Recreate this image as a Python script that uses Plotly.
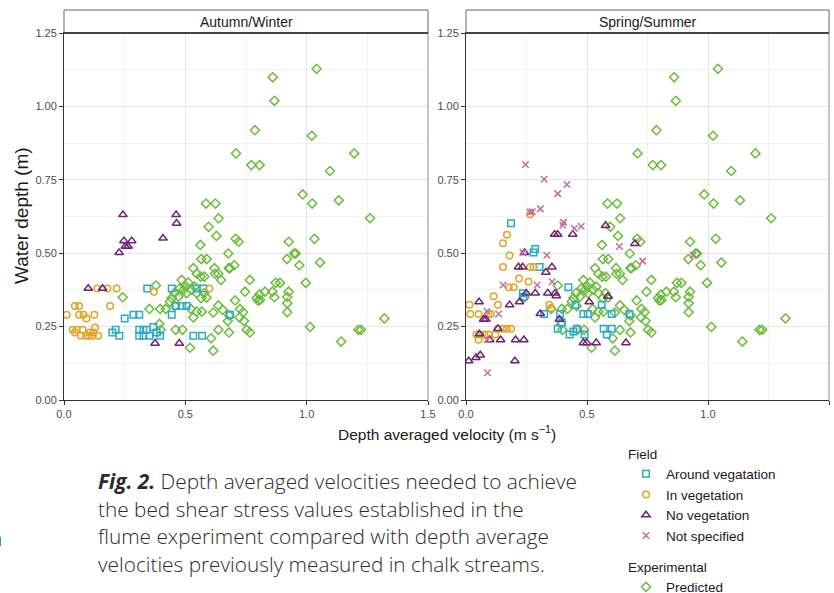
import plotly.graph_objects as go

W, H = 834, 593

# ---------------- data ----------------
panels = ["Autumn/Winter", "Spring/Summer"]

pred_x = [1.041, 0.860, 0.867, 0.787, 1.021, 0.709, 1.196, 0.772, 0.806, 1.096, 0.984, 1.132, 1.023, 0.585,
          0.624, 1.261, 0.637, 0.596, 0.628, 1.032, 0.707, 0.720, 0.926, 0.562, 0.948, 0.955, 0.677, 1.055,
          0.919, 0.566, 0.588, 0.970, 0.702, 0.679, 0.684, 0.533, 0.620, 0.622, 0.636, 0.647, 0.547, 0.563,
          0.578, 0.766, 0.996, 0.872, 0.890, 0.828, 0.805, 0.859, 0.926, 0.746, 0.485, 0.512, 0.499, 0.478,
          0.492, 0.526, 0.547, 0.577, 0.538, 0.455, 0.444, 0.471, 0.437, 0.505, 0.565, 0.587, 0.794, 0.800,
          0.808, 0.867, 0.920, 0.920, 0.920, 0.379, 0.242, 0.352, 0.396, 0.419, 0.457, 0.523, 0.547, 0.568,
          0.615, 0.636, 0.654, 0.705, 0.725, 0.738, 0.723, 0.742, 0.533, 0.675, 0.681, 0.393, 0.398, 0.460,
          0.488, 0.636, 0.753, 0.766, 0.680, 1.014, 1.213, 1.224, 1.320, 1.142, 0.606, 0.519, 0.615]
pred_y = [1.128, 1.099, 1.019, 0.919, 0.900, 0.840, 0.840, 0.800, 0.800, 0.780, 0.700, 0.680, 0.669, 0.669,
          0.669, 0.619, 0.619, 0.590, 0.559, 0.549, 0.549, 0.539, 0.539, 0.528, 0.499, 0.499, 0.499, 0.468,
          0.480, 0.480, 0.480, 0.459, 0.459, 0.449, 0.449, 0.449, 0.449, 0.430, 0.430, 0.409, 0.430, 0.420,
          0.420, 0.409, 0.399, 0.399, 0.399, 0.369, 0.359, 0.369, 0.369, 0.369, 0.409, 0.400, 0.389, 0.381,
          0.375, 0.375, 0.364, 0.364, 0.386, 0.364, 0.347, 0.352, 0.335, 0.364, 0.347, 0.349, 0.347, 0.338,
          0.341, 0.350, 0.351, 0.330, 0.299, 0.390, 0.350, 0.310, 0.310, 0.310, 0.320, 0.310, 0.301, 0.301,
          0.298, 0.322, 0.307, 0.339, 0.310, 0.299, 0.281, 0.269, 0.281, 0.269, 0.288, 0.259, 0.239, 0.239,
          0.239, 0.239, 0.239, 0.230, 0.230, 0.249, 0.239, 0.239, 0.278, 0.199, 0.210, 0.178, 0.168]

# Autumn/Winter field data
aw_around_x = [0.250, 0.286, 0.310, 0.199, 0.213, 0.228, 0.310, 0.327, 0.310, 0.327, 0.352, 0.341, 0.368,
               0.382, 0.396, 0.343, 0.444, 0.444, 0.462, 0.486, 0.505, 0.547, 0.574, 0.533, 0.569, 0.684]
aw_around_y = [0.278, 0.290, 0.290, 0.230, 0.239, 0.219, 0.239, 0.239, 0.219, 0.219, 0.219, 0.239, 0.249,
               0.230, 0.219, 0.380, 0.380, 0.290, 0.320, 0.320, 0.320, 0.380, 0.380, 0.219, 0.219, 0.290]
aw_in_x = [0.011, 0.045, 0.062, 0.062, 0.080, 0.093, 0.125, 0.036, 0.052, 0.077, 0.045, 0.070, 0.091, 0.104,
           0.118, 0.141, 0.107, 0.128, 0.121, 0.190, 0.137, 0.179, 0.217, 0.371, 0.599]
aw_in_y = [0.290, 0.320, 0.320, 0.290, 0.290, 0.278, 0.290, 0.239, 0.239, 0.239, 0.230, 0.219, 0.219, 0.219,
           0.219, 0.219, 0.230, 0.247, 0.230, 0.320, 0.380, 0.380, 0.380, 0.369, 0.380]
aw_no_x = [0.243, 0.462, 0.464, 0.408, 0.247, 0.279, 0.253, 0.264, 0.227, 0.100, 0.159, 0.375, 0.475]
aw_no_y = [0.631, 0.631, 0.602, 0.551, 0.542, 0.542, 0.523, 0.523, 0.502, 0.380, 0.380, 0.193, 0.193]
aw_ns_x = []
aw_ns_y = []

# Spring/Summer field data
ss_around_x = [0.186, 0.286, 0.279, 0.304, 0.235, 0.238, 0.323, 0.389, 0.379, 0.396, 0.423, 0.452, 0.458,
               0.444, 0.428, 0.485, 0.503, 0.490, 0.561, 0.602, 0.569, 0.602, 0.582, 0.675]
ss_around_y = [0.602, 0.514, 0.502, 0.453, 0.364, 0.352, 0.293, 0.293, 0.243, 0.264, 0.384, 0.324, 0.243,
               0.233, 0.223, 0.293, 0.293, 0.223, 0.324, 0.293, 0.243, 0.243, 0.223, 0.293]
ss_in_x = [0.014, 0.018, 0.052, 0.093, 0.103, 0.043, 0.059, 0.077, 0.093, 0.052, 0.121, 0.131, 0.153, 0.169,
           0.186, 0.114, 0.132, 0.153, 0.169, 0.180, 0.153, 0.177, 0.197, 0.219, 0.258, 0.265, 0.279, 0.265,
           0.344, 0.352]
ss_in_y = [0.324, 0.293, 0.293, 0.293, 0.293, 0.223, 0.223, 0.223, 0.223, 0.205, 0.223, 0.243, 0.243, 0.243,
           0.243, 0.353, 0.324, 0.534, 0.563, 0.492, 0.453, 0.384, 0.384, 0.414, 0.403, 0.453, 0.453, 0.633,
           0.324, 0.313]
ss_no_x = [0.011, 0.041, 0.059, 0.054, 0.055, 0.073, 0.082, 0.098, 0.132, 0.143, 0.180, 0.205, 0.239, 0.202,
           0.221, 0.217, 0.234, 0.242, 0.249, 0.286, 0.307, 0.330, 0.355, 0.338, 0.368, 0.373, 0.366, 0.379,
           0.441, 0.386, 0.485, 0.499, 0.538, 0.509, 0.577, 0.586, 0.698, 0.661]
ss_no_y = [0.133, 0.144, 0.153, 0.334, 0.225, 0.275, 0.275, 0.205, 0.243, 0.205, 0.324, 0.205, 0.205, 0.133,
           0.334, 0.453, 0.453, 0.502, 0.364, 0.364, 0.294, 0.435, 0.453, 0.364, 0.364, 0.355, 0.564, 0.564,
           0.564, 0.275, 0.195, 0.195, 0.195, 0.334, 0.594, 0.353, 0.533, 0.195]
ss_ns_x = [0.246, 0.323, 0.417, 0.379, 0.307, 0.274, 0.265, 0.403, 0.400, 0.448, 0.476, 0.634, 0.235, 0.334,
           0.730, 0.939, 0.356, 0.294, 0.153, 0.087, 0.135, 0.087, 0.089]
ss_ns_y = [0.802, 0.752, 0.734, 0.703, 0.651, 0.641, 0.640, 0.605, 0.595, 0.584, 0.592, 0.523, 0.502, 0.493,
           0.473, 0.493, 0.403, 0.392, 0.392, 0.302, 0.293, 0.205, 0.093]

field_names = ["Around vegatation", "In vegetation", "No vegetation", "Not specified"]
x_ticks = [0.0, 0.5, 1.0, 1.5]
x_tick_labels = ["0.0", "0.5", "1.0", "1.5"]
y_ticks = [0.0, 0.25, 0.5, 0.75, 1.0, 1.25]
y_tick_labels = ["0.00", "0.25", "0.50", "0.75", "1.00", "1.25"]

# ---------------- styling ----------------
C_AROUND = "#2aaac8"
C_IN = "#e0a526"
C_NO = "#6e2373"
C_NS = "#c0709a"
C_PRED = "#6cbb3c"
FONT = "Liberation Sans, Arial, sans-serif"

def px_x(p):
    return p / W

def px_y(p):
    return 1 - p / H

panel_px = [(64, 428), (466, 829)]
TOP, BOT, STRIP_TOP = 33, 400, 10

fig = go.Figure()

field_data = [
    [(aw_around_x, aw_around_y), (aw_in_x, aw_in_y), (aw_no_x, aw_no_y), (aw_ns_x, aw_ns_y)],
    [(ss_around_x, ss_around_y), (ss_in_x, ss_in_y), (ss_no_x, ss_no_y), (ss_ns_x, ss_ns_y)],
]
styles = [
    dict(symbol="square-open", color=C_AROUND, size=6.5),
    dict(symbol="circle-open", color=C_IN, size=6.5),
    dict(symbol="triangle-up-open", color=C_NO, size=7.5),
    dict(symbol="x-thin-open", color=C_NS, size=6.5),
]

for i in range(2):
    xa = "x" if i == 0 else "x2"
    ya = "y" if i == 0 else "y2"
    fig.add_trace(go.Scatter(
        x=pred_x, y=pred_y, mode="markers", xaxis=xa, yaxis=ya,
        name="Predicted", legend="legend2", showlegend=(i == 0),
        marker=dict(symbol="diamond-open", size=7, color=C_PRED, line=dict(width=1.5, color=C_PRED)),
        hoverinfo="skip"))
    for k in range(4):
        xs, ys = field_data[i][k]
        st = styles[k]
        fig.add_trace(go.Scatter(
            x=xs if xs else [None], y=ys if ys else [None], mode="markers", xaxis=xa, yaxis=ya,
            name=field_names[k], legend="legend", showlegend=(i == 0), legendrank=k + 1,
            marker=dict(symbol=st["symbol"], size=st["size"], color=st["color"],
                        line=dict(width=1.5, color=st["color"])),
            hoverinfo="skip"))

axis_common = dict(
    showgrid=True, gridcolor="#e6e6e6", gridwidth=1, zeroline=False, automargin=False,
    showline=True, linecolor="#333333", linewidth=1,
    ticks="outside", ticklen=4, tickcolor="#333333", tickwidth=1,
    tickfont=dict(family=FONT, size=11, color="#4d4d4d"),
)

layout = dict(
    width=W, height=H, margin=dict(l=0, r=0, t=0, b=0, autoexpand=False),
    paper_bgcolor="white", plot_bgcolor="white",
    showlegend=True,
)
for i, (l, r) in enumerate(panel_px):
    sx = "" if i == 0 else "2"
    layout["xaxis" + sx] = dict(
        axis_common, domain=[px_x(l), px_x(r)], range=[0, 1.5], anchor="y" + sx,
        tickvals=x_ticks, ticktext=x_tick_labels,
        minor=dict(tickvals=[0.25, 0.75, 1.25], showgrid=True, gridcolor="#f2f2f2", ticks=""),
    )
    layout["yaxis" + sx] = dict(
        axis_common, domain=[px_y(BOT), px_y(TOP)], range=[0, 1.25], anchor="x" + sx,
        tickvals=y_ticks, ticktext=y_tick_labels,
        minor=dict(tickvals=[0.125, 0.375, 0.625, 0.875, 1.125], showgrid=True, gridcolor="#f2f2f2", ticks=""),
    )
fig.update_layout(**layout)

shapes = []
annotations = []
for i, (l, r) in enumerate(panel_px):
    # panel border (right)
    shapes.append(dict(type="line", xref="paper", yref="paper", x0=px_x(r), x1=px_x(r),
                       y0=px_y(BOT), y1=px_y(TOP), line=dict(color="#8c8c8c", width=1)))
    # strip
    shapes.append(dict(type="rect", xref="paper", yref="paper", x0=px_x(l), x1=px_x(r),
                       y0=px_y(TOP), y1=px_y(STRIP_TOP), fillcolor="white",
                       line=dict(color="#666666", width=1)))
    shapes.append(dict(type="line", xref="paper", yref="paper", x0=px_x(l - 1), x1=px_x(r),
                       y0=px_y(TOP), y1=px_y(TOP), line=dict(color="#444444", width=2)))
    annotations.append(dict(text=panels[i], xref="paper", yref="paper", x=px_x((l + r) / 2),
                            y=px_y((TOP + STRIP_TOP) / 2), showarrow=False, xanchor="center",
                            yanchor="middle",
                            font=dict(family=FONT, size=14, color="#1a1a1a")))

# axis titles
annotations.append(dict(text="Water depth (m)", xref="paper", yref="paper", x=px_x(21),
                        y=px_y(216), textangle=-90, showarrow=False,
                        xanchor="center", yanchor="middle",
                        font=dict(family=FONT, size=19, color="#1a1a1a")))
annotations.append(dict(text="Depth averaged velocity (m s<sup>\u22121</sup>)", xref="paper", yref="paper",
                        x=px_x(447), y=px_y(433), showarrow=False, xanchor="center", yanchor="middle",
                        font=dict(family=FONT, size=15.5, color="#1a1a1a")))

# caption
caption_lines = [
    "<b><i>Fig. 2.</i></b> Depth averaged velocities needed to achieve",
    "the bed shear stress values established in the",
    "flume experiment compared with depth average",
    "velocities previously measured in chalk streams.",
]
caption_y = [481, 509, 536, 564]
for txt, yy in zip(caption_lines, caption_y):
    annotations.append(dict(text=txt, xref="paper", yref="paper", x=px_x(96), y=px_y(yy),
                            showarrow=False, xanchor="left", yanchor="middle",
                            font=dict(family="Open Sans, sans-serif", size=20.8, color="#2b2b2b", weight=300)))
annotations.append(dict(text="n", xref="paper", yref="paper", x=px_x(4), y=px_y(538),
                        showarrow=False, xanchor="right", yanchor="middle",
                        font=dict(family="Open Sans, sans-serif", size=20.8, color="#2b2b2b", weight=300)))

fig.update_layout(
    shapes=shapes, annotations=annotations,
    legend=dict(
        title=dict(text="Field", font=dict(size=13.5, family=FONT, color="#1a1a1a")),
        x=px_x(626), y=px_y(441), xanchor="left", yanchor="top",
        font=dict(family=FONT, size=13.5, color="#1a1a1a"),
        bgcolor="rgba(0,0,0,0)", itemsizing="trace", tracegroupgap=0,
    ),
    legend2=dict(
        title=dict(text="Experimental", font=dict(size=13.5, family=FONT, color="#1a1a1a")),
        x=px_x(626), y=px_y(554), xanchor="left", yanchor="top",
        font=dict(family=FONT, size=13.5, color="#1a1a1a"),
        bgcolor="rgba(0,0,0,0)", itemsizing="trace",
    ),
)

fig.write_html("out.html", config={"displayModeBar": False},
               post_script="document.body.style.margin='0';document.body.style.overflow='hidden';")
